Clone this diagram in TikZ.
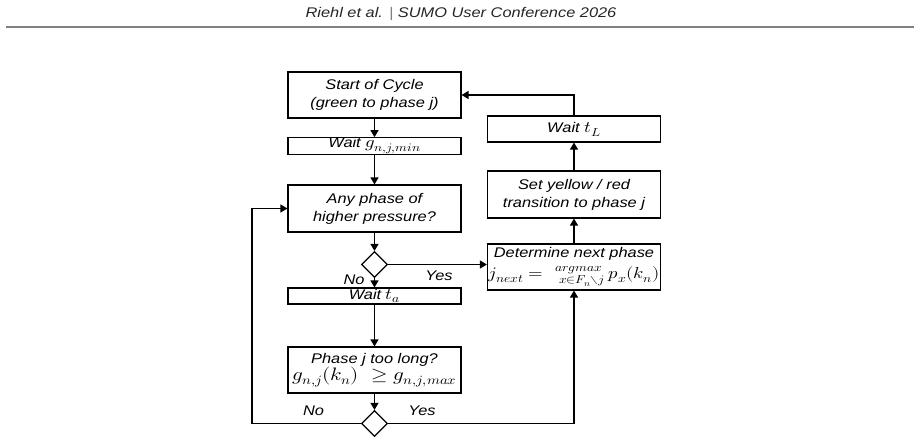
\documentclass[tikz,border=0pt]{standalone}
\usepackage{amsmath}
\usepackage{graphicx}
\usepackage{fontspec}
\usepackage{unicode-math}
\setmainfont{Liberation Sans}[FakeStretch=1.17]
\setmathfont{Latin Modern Math}
\DeclareMathSizes{14}{16}{11.5}{8.5}
\newcommand{\mth}[1]{\scalebox{1.17}[1]{$#1$}}
\usetikzlibrary{arrows.meta,shapes.geometric}
\begin{document}
\begin{tikzpicture}[x=1pt,y=-1pt,
  box/.style={draw, line width=1.2pt, align=center, font=\fontsize{14}{18}\selectfont\itshape, inner sep=1pt, minimum width=173pt},
  flow/.style={line width=1.3pt, -{Triangle[length=7pt,width=8pt]}},
  dia/.style={draw, line width=1.2pt, diamond, minimum size=26pt, inner sep=0pt},
  lbl/.style={font=\fontsize{14}{16}\selectfont\itshape, inner sep=0pt}]
\useasboundingbox (0,0) rectangle (921,443);
% header
\node[font=\fontsize{14}{16}\selectfont\itshape, text=black!85] (hdr) at (461,14) {Riehl et al. {\color{gray}|} SUMO User Conference 2026};
\coordinate (hl) at (6,27);
\coordinate (hr) at (914,27);
\draw[gray, line width=1.5pt] (hl) -- (hr);
% left column
\node[box, minimum height=16pt, inner ysep=0pt] (waitg) at (374.5,146) {Wait \mth{g_{n,j,min}}};
\node[box, minimum height=46pt] (start) at (374.5,95) {Start of Cycle\\(green to phase j)};
\node[box, minimum height=47pt] (any) at (374.5,208.5) {Any phase of\\higher pressure?};
\node[dia] (d1) at (374.5,264.5) {};
\node[box, minimum height=16pt, inner ysep=0pt] (waitta) at (374.5,296) {Wait \mth{t_a}};
\node[box, minimum height=46pt] (phasej) at (374.5,370) {Phase j too long?\\[-1pt]{\fontsize{18}{20}\selectfont\mth{g_{n,j}(k_n)\ \geq g_{n,j,max}}}};
\node[dia] (d2) at (374.5,423.5) {};
% right column
\node[box, minimum height=26pt] (waitL) at (574,129) {Wait \mth{t_L}};
\node[box, minimum height=47pt] (setyel) at (574,194.5) {Set yellow / red\\transition to phase j};
\node[box, minimum height=46pt, inner ysep=0pt] (det) at (574,267) {Determine next phase\\[3pt]\mth{j_{next} =\, \genfrac{}{}{0pt}{1}{argmax}{\hspace{5pt}x\in F_n\setminus j}\, p_x(k_n)}};
% connectors
\draw[flow] (start) -- (waitg);
\draw[flow] (waitg) -- (any);
\draw[flow] (any) -- (d1);
\draw[flow] (d1) -- (waitta);
\draw[flow] (waitta) -- (phasej);
\draw[flow] (phasej) -- (d2);
\draw[flow] (d1.east) -- (d1.east -| det.west);
\coordinate (lp) at (252,423.5);
\draw[flow] (d2.west) -- (lp) |- (any.west);
\draw[flow] (d2.east) -| (det.south);
\draw[flow] (det) -- (setyel);
\draw[flow] (setyel) -- (waitL);
\draw[flow] (waitL.north) |- (start.east);
% labels
\node[lbl] (no1) at (354,280) {No};
\node[lbl] (yes1) at (439,276) {Yes};
\node[lbl] (no2) at (313.5,411) {No};
\node[lbl] (yes2) at (422,411) {Yes};
\end{tikzpicture}
\end{document}
